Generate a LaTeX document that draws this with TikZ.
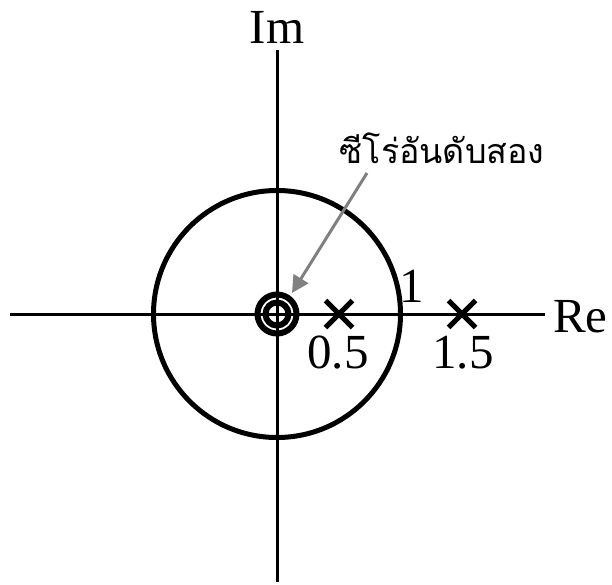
\documentclass[tikz,border=0pt]{standalone}
\usepackage{fontspec}
\setmainfont{Liberation Serif}
\newfontfamily\thaifont[Script=Thai]{Loma}
\usetikzlibrary{arrows.meta,shapes.misc}
\definecolor{arrowgray}{gray}{0.5}
\begin{document}
\begin{tikzpicture}[x=1pt,y=-1pt,
  axis/.style={line width=3pt},
  ring/.style={line width=5pt},
  zero/.style={line width=6pt},
  pole/.style={draw, cross out, line width=5pt, minimum size=22pt, inner sep=0pt},
  lbl/.style={font=\fontsize{49}{52}\selectfont, inner sep=0pt},
  thailbl/.style={font=\thaifont\fontsize{34}{38}\selectfont, inner sep=0pt},
  pointer/.style={draw=arrowgray, line width=3pt, -{Triangle[length=17pt,width=17pt]}}]
\useasboundingbox (0,0) rectangle (612,584);
\coordinate (O) at (277,314);
\coordinate (L) at (10,314);
\coordinate (R) at (545,314);
\coordinate (T) at (277,50);
\coordinate (B) at (277,582);
\draw[axis] (L) -- (R);
\draw[axis] (T) -- (B);
\draw[ring] (O) circle (123.5);
\draw[zero] (O) circle (19.5);
\draw[zero] (O) circle (11.5);
\node[pole] (p1) at (339,314) {};
\node[pole] (p2) at (462,314) {};
\node[lbl, anchor=base] (im) at (277,43) {Im};
\node[lbl, anchor=base west] (re) at (553,332) {Re};
\node[lbl, anchor=base] (l05) at (338,368) {0.5};
\node[lbl, anchor=base] (l15) at (463,368) {1.5};
\node[lbl, anchor=base] (l1) at (412,302) {1};
\node[thailbl, anchor=base] (thai) at (442,163) {ซีโร่อันดับสอง};
\coordinate (A0) at (367,173);
\coordinate (A1) at (292,293);
\draw[pointer] (A0) -- (A1);
\end{tikzpicture}
\end{document}
